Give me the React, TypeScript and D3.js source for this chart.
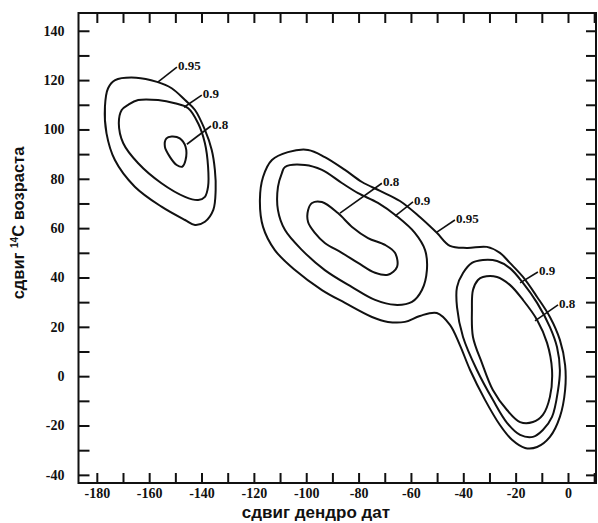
import React, { useRef, useEffect } from 'react';
import * as d3 from 'd3';

type Pt = [number, number];

// axis ticks
const xTickValues = [-180, -170, -160, -150, -140, -130, -120, -110, -100, -90, -80, -70, -60, -50, -40, -30, -20, -10, 0, 10];
const xTickLabels = [-180, -160, -140, -120, -100, -80, -60, -40, -20, 0];
const yTickValues = [-40, -30, -20, -10, 0, 10, 20, 30, 40, 50, 60, 70, 80, 90, 100, 110, 120, 130, 140];
const yTickLabels = [-40, -20, 0, 20, 40, 60, 80, 100, 120, 140];

// contour lines (dendro shift, 14C shift)
const leftOuter95: Pt[] = [
  [-173, 120], [-165, 121], [-157, 119.3], [-151.4, 116.7], [-146.3, 111.9], [-142.5, 107.9],
  [-138.7, 99.8], [-136.1, 91.7], [-134.9, 83.6], [-134.6, 75.5], [-135.5, 67.4], [-138.7, 62.6],
  [-142.5, 61.3], [-146.3, 63.3], [-155.3, 68.7], [-165.5, 76.8], [-173.1, 87.6], [-176.3, 98.4],
  [-176.9, 109.2], [-175.7, 116.7],
];
const leftMid90: Pt[] = [
  [-168, 110], [-164.2, 111.9], [-156.6, 111.9], [-150.2, 110.6], [-145.1, 108.6], [-141.3, 102.5],
  [-138.7, 94.4], [-137.5, 84.9], [-137.5, 76.8], [-138.7, 72.7], [-141.3, 71.4], [-146.3, 72.7],
  [-155.3, 78.2], [-164.2, 86.3], [-169.9, 94.4], [-171.6, 102.5], [-170.5, 107.9],
];
const leftInner80: Pt[] = [
  [-151.4, 97.1], [-148.3, 96.4], [-146.1, 93], [-146.1, 87.6], [-147.4, 84.9], [-149.5, 85.6],
  [-152.1, 88.9], [-154, 93], [-153.4, 96.4],
];
const bigOuter95: Pt[] = [
  [-99.3, 91.7], [-92.9, 88.8], [-85.2, 83.6], [-78.7, 78.7], [-71.8, 75.1], [-64.2, 71],
  [-56.6, 64.5], [-50.1, 58.1], [-45.1, 52.8], [-38.6, 52], [-31, 52.4], [-26, 50],
  [-22.2, 45.9], [-17.2, 40.2], [-11.8, 32.1], [-6.9, 24], [-3.1, 14.7], [-1.1, 4.5],
  [-1.1, -5.6], [-3.1, -16.5], [-6.9, -24.6], [-11.8, -28.7], [-16.4, -29.1], [-21.4, -25.8],
  [-26, -19.8], [-31.7, -9.6], [-37.4, 2.5], [-41.3, 12.6], [-45.1, 20.8], [-50.1, 25.6],
  [-56.6, 24.4], [-62.3, 22], [-68.8, 22], [-74.9, 24], [-85.2, 29.7], [-94, 34.9],
  [-104.3, 43], [-112, 51.1], [-116.5, 60.5], [-117.7, 71.4], [-116.5, 80.7], [-113.1, 87.6],
  [-107, 90.8],
];
const midOuter90: Pt[] = [
  [-108.1, 84.8], [-100.5, 85.6], [-94, 83.6], [-86.4, 78.3], [-80.2, 74.2], [-72.6, 70.2],
  [-65, 64.5], [-58.5, 58.1], [-54.6, 51.1], [-53.9, 43], [-55.8, 34.9], [-59.6, 30.1],
  [-66.1, 28.9], [-73.7, 30.9], [-82.5, 36.1], [-92.9, 43], [-101.6, 51.1], [-108.1, 59.2],
  [-110.8, 67.3], [-110.8, 76.7], [-109.3, 82.3],
];
const midInner80: Pt[] = [
  [-99.3, 67.3], [-97.8, 70.2], [-94, 70.6], [-87.9, 66.1], [-82.5, 60.5], [-76.4, 56],
  [-69.9, 53.2], [-66.1, 50], [-65.3, 44.3], [-68.8, 41.1], [-73.7, 41.9], [-80.2, 45.9],
  [-86.4, 50], [-92.9, 54], [-96.7, 58.1], [-99.3, 62.5],
];
const rightOuter90: Pt[] = [
  [-32.5, 47.1], [-27.1, 46.7], [-22.2, 43.8], [-17.2, 37.8], [-11.8, 29.7], [-6.9, 19.9],
  [-4.2, 11.8], [-3.1, 2.5], [-3.8, -5.6], [-6.1, -16.5], [-9.6, -21.8], [-13.4, -24.6],
  [-18.3, -23.8], [-23.3, -18.9], [-28.7, -9.6], [-34.8, 2.5], [-40.1, 15.9], [-42.4, 28],
  [-42.4, 36.1], [-40.1, 41.8], [-36.7, 45.9],
];
const rightInner80: Pt[] = [
  [-32.5, 40.2], [-27.1, 40.2], [-22.2, 37], [-17.2, 30.9], [-11.8, 22.8], [-8, 13.5],
  [-6.1, 2.5], [-6.9, -8.4], [-9.6, -15.7], [-13.4, -18.6], [-18.3, -18.6], [-23.3, -13.7],
  [-28.7, -5.6], [-32.9, 5.4], [-36.3, 15.9], [-36.7, 26.8], [-36.3, 34.9], [-34.4, 39],
];

// level labels: text, leader start (on the contour), leader end
const labelText = ['0.95', '0.9', '0.8', '0.8', '0.9', '0.95', '0.9', '0.8'];
const labelFrom: Pt[] = [
  [-156.7, 119.2], [-146.7, 109], [-145.6, 94], [-87.1, 66.1], [-66.1, 64.9], [-50.1, 58.4], [-18.3, 37.8], [-12.6, 22.4],
];
const labelTo: Pt[] = [
  [-149.4, 125.3], [-139.9, 113.9], [-136.4, 101.4], [-71.1, 78.2], [-59.2, 70.6], [-43.2, 63.3], [-11.5, 42.2], [-3.8, 28.9],
];

const width = 598;
const height = 523;
const ink = '#111';

const App = () => {
  const svgRef = useRef<SVGSVGElement>(null);

  useEffect(() => {
    const svg = d3.select(svgRef.current);
    svg.selectAll('*').remove();

    const left = 78.5, right = 596, top = 13, bottom = 483;
    const x = d3.scaleLinear().domain([-187, 10.7]).range([left, right]);
    const y = d3.scaleLinear().domain([-43.3, 147.2]).range([bottom, top]);

    svg.append('rect').attr('width', width).attr('height', height).attr('fill', '#fff');

    const fmtX = (d: any) => (xTickLabels.includes(d) ? String(d) : '');
    const fmtY = (d: any) => (yTickLabels.includes(d) ? String(d) : '');
    const none = () => '';

    svg.append('g')
      .attr('class', 'ax')
      .attr('transform', `translate(0,${bottom})`)
      .call(d3.axisBottom(x).tickValues(xTickValues).tickSizeInner(-10).tickSizeOuter(0).tickPadding(5).tickFormat(fmtX));
    svg.append('g')
      .attr('class', 'ax')
      .attr('transform', `translate(0,${top})`)
      .call(d3.axisTop(x).tickValues(xTickValues).tickSizeInner(-10).tickSizeOuter(0).tickFormat(none));
    svg.append('g')
      .attr('class', 'ax')
      .attr('transform', `translate(${left},0)`)
      .call(d3.axisLeft(y).tickValues(yTickValues).tickSizeInner(-11).tickSizeOuter(0).tickPadding(14).tickFormat(fmtY));
    svg.append('g')
      .attr('class', 'ax')
      .attr('transform', `translate(${right},0)`)
      .call(d3.axisRight(y).tickValues(yTickValues).tickSizeInner(-10).tickSizeOuter(0).tickFormat(none));

    svg.selectAll('.ax .domain').remove();
    svg.selectAll('.ax line').attr('stroke', ink).attr('stroke-width', 2);
    svg.selectAll('.ax text')
      .attr('fill', ink)
      .style('font-family', '"Liberation Serif", "Times New Roman", serif')
      .style('font-weight', 'bold')
      .style('font-size', '14px');

    svg.append('rect')
      .attr('x', left).attr('y', top)
      .attr('width', right - left).attr('height', bottom - top)
      .attr('fill', 'none').attr('stroke', ink).attr('stroke-width', 2);

    // contours
    const line = d3.line<Pt>()
      .x(d => x(d[0]))
      .y(d => y(d[1]))
      .curve(d3.curveCatmullRomClosed.alpha(0.5));
    const contours = [leftOuter95, leftMid90, leftInner80, bigOuter95, midOuter90, midInner80, rightOuter90, rightInner80];
    svg.append('g')
      .selectAll('path')
      .data(contours)
      .enter()
      .append('path')
      .attr('d', d => line(d))
      .attr('fill', 'none')
      .attr('stroke', ink)
      .attr('stroke-width', 2)
      .attr('stroke-linejoin', 'round');

    // level labels with leaders
    const lab = svg.append('g');
    lab.selectAll('line')
      .data(labelText)
      .enter()
      .append('line')
      .attr('x1', (_, i) => x(labelFrom[i][0]))
      .attr('y1', (_, i) => y(labelFrom[i][1]))
      .attr('x2', (_, i) => x(labelTo[i][0]))
      .attr('y2', (_, i) => y(labelTo[i][1]))
      .attr('stroke', ink)
      .attr('stroke-width', 1.6);
    lab.selectAll('text')
      .data(labelText)
      .enter()
      .append('text')
      .attr('x', (_, i) => x(labelTo[i][0]) + 1)
      .attr('y', (_, i) => y(labelTo[i][1]) + 3)
      .attr('fill', ink)
      .style('font-family', '"Liberation Serif", "Times New Roman", serif')
      .style('font-weight', 'bold')
      .style('font-size', '13px')
      .text(d => d);

    // axis titles
    svg.append('text')
      .attr('x', 316)
      .attr('y', 518)
      .attr('text-anchor', 'middle')
      .attr('fill', ink)
      .style('font-family', '"Liberation Sans", Arial, sans-serif')
      .style('font-weight', 'bold')
      .style('font-size', '17px')
      .text('сдвиг дендро дат');

    const yt = svg.append('text')
      .attr('transform', 'translate(24,223) rotate(-90)')
      .attr('text-anchor', 'middle')
      .attr('fill', ink)
      .style('font-family', '"Liberation Sans", Arial, sans-serif')
      .style('font-weight', 'bold')
      .style('font-size', '16.5px');
    yt.append('tspan').text('сдвиг ');
    yt.append('tspan').attr('dy', -6).style('font-size', '10px').text('14');
    yt.append('tspan').attr('dy', 6).text('С возраста');
  }, []);

  return (
    <svg
      ref={svgRef}
      width={width}
      height={height}
      style={{ position: 'absolute', left: 0, top: 0, display: 'block' }}
    />
  );
};

export default App;
